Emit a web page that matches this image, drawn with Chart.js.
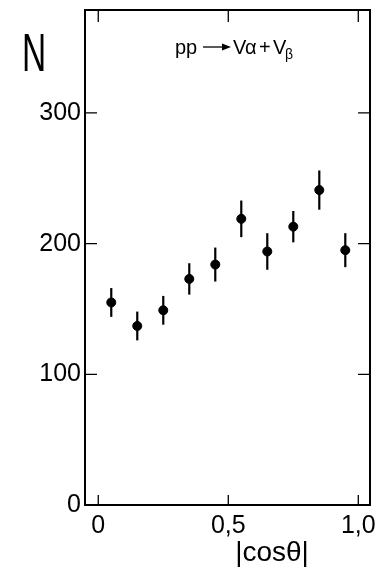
<!DOCTYPE html>
<html>
<head>
<meta charset="utf-8">
<script src="https://cdn.jsdelivr.net/npm/chart.js@4.4.1/dist/chart.umd.min.js"></script>
<style>
  html, body { margin: 0; padding: 0; background: #fff; }
  #wrap { width: 377px; height: 585px; }
</style>
</head>
<body>
<div id="wrap"><canvas id="chart" width="377" height="585"></canvas></div>
<script>
// |cos theta| bin centres, counts and their errors
const cosBins = [0.05, 0.15, 0.25, 0.35, 0.45, 0.55, 0.65, 0.75, 0.85, 0.95];
const counts = [155, 137, 149, 173, 184, 219, 194, 213, 241, 195];
const countErrors = [11, 11, 11, 12, 13, 14, 14, 12, 15, 13];

const xTicks = [0, 0.5, 1.0];
const yTicks = [0, 100, 200, 300];

const tickFont = { family: "'Liberation Sans', Arial, sans-serif", size: 25 };

// error bars, frame, inward ticks and free labels
const paperPlugin = {
    id: 'paper',
    beforeDatasetsDraw(chart) {
        const ctx = chart.ctx;
        const x = chart.scales.x, y = chart.scales.y;
        ctx.save();
        ctx.strokeStyle = '#000';
        ctx.lineWidth = 2.2;
        cosBins.forEach((c, i) => {
            const px = x.getPixelForValue(c);
            ctx.beginPath();
            ctx.moveTo(px, y.getPixelForValue(counts[i] - countErrors[i]));
            ctx.lineTo(px, y.getPixelForValue(counts[i] + countErrors[i]));
            ctx.stroke();
        });
        ctx.restore();
    },
    afterDraw(chart) {
        const ctx = chart.ctx;
        const a = chart.chartArea;
        const x = chart.scales.x, y = chart.scales.y;
        ctx.save();
        ctx.strokeStyle = '#000';
        ctx.lineWidth = 2;
        ctx.strokeRect(a.left, a.top, a.right - a.left, a.bottom - a.top);

        ctx.lineWidth = 1.3;
        ctx.beginPath();
        xTicks.forEach(v => {
            const px = x.getPixelForValue(v);
            ctx.moveTo(px, a.top); ctx.lineTo(px, a.top + 12);
            ctx.moveTo(px, a.bottom); ctx.lineTo(px, a.bottom - 10);
        });
        yTicks.slice(1).forEach(v => {
            const py = y.getPixelForValue(v);
            ctx.moveTo(a.left, py); ctx.lineTo(a.left + 12, py);
            ctx.moveTo(a.right, py); ctx.lineTo(a.right - 12, py);
        });
        ctx.stroke();

        ctx.fillStyle = '#000';
        // y axis label
        ctx.save();
        ctx.translate(34, 56);
        ctx.scale(0.62, 1);
        ctx.font = "54px 'Liberation Sans', Arial, sans-serif";
        ctx.textAlign = 'center';
        ctx.textBaseline = 'middle';
        ctx.fillText('N', 0, 0);
        ctx.restore();

        // x axis label
        ctx.font = "28px 'Liberation Sans', Arial, sans-serif";
        ctx.textAlign = 'center';
        ctx.textBaseline = 'middle';
        ctx.fillText('|cosθ|', 272, 553);

        // reaction
        ctx.font = "20px 'Liberation Sans', Arial, sans-serif";
        ctx.textAlign = 'left';
        ctx.textBaseline = 'alphabetic';
        ctx.fillText('pp', 175, 54);
        ctx.lineWidth = 1.3;
        ctx.beginPath();
        ctx.moveTo(203, 47); ctx.lineTo(224, 47);
        ctx.stroke();
        ctx.beginPath();
        ctx.moveTo(231, 47); ctx.lineTo(222, 43.5); ctx.lineTo(222, 50.5);
        ctx.closePath();
        ctx.fill();
        ctx.fillText('V', 233, 54);
        ctx.fillText('α', 245, 54);
        ctx.fillText('+', 259, 54);
        ctx.fillText('V', 273, 54);
        ctx.font = "14px 'Liberation Sans', Arial, sans-serif";
        ctx.fillText('β', 285, 59);
        ctx.restore();
    }
};

new Chart(document.getElementById('chart'), {
    type: 'scatter',
    data: {
        datasets: [{
            data: cosBins.map((c, i) => ({ x: c, y: counts[i] })),
            backgroundColor: '#000',
            borderColor: '#000',
            pointRadius: 4.5,
            pointHoverRadius: 4.5,
            showLine: false
        }]
    },
    options: {
        responsive: false,
        animation: false,
        events: [],
        layout: { padding: { top: 10, right: 7, left: 0, bottom: 0 } },
        plugins: { legend: { display: false }, tooltip: { enabled: false } },
        scales: {
            x: {
                type: 'linear',
                min: -0.051,
                max: 1.045,
                grid: { display: false, drawTicks: false },
                border: { display: false },
                afterBuildTicks: s => { s.ticks = xTicks.map(v => ({ value: v })); },
                afterFit: s => {
                    s.height = 80;
                    s.paddingLeft = 0; s.paddingRight = 0;
                },
                ticks: {
                    autoSkip: false,
                    maxRotation: 0,
                    padding: 6,
                    color: '#000',
                    font: tickFont,
                    callback: v => v === 0 ? '0' : v.toFixed(1).replace('.', ',')
                }
            },
            y: {
                min: 0,
                max: 378.8,
                grid: { display: false, drawTicks: false },
                border: { display: false },
                afterBuildTicks: s => { s.ticks = yTicks.map(v => ({ value: v })); },
                afterFit: s => {
                    s.width = 85;
                    s.paddingTop = 0; s.paddingBottom = 0;
                },
                ticks: {
                    padding: 4,
                    color: '#000',
                    font: tickFont,
                    callback: v => String(v)
                }
            }
        }
    },
    plugins: [paperPlugin]
});
</script>
</body>
</html>
